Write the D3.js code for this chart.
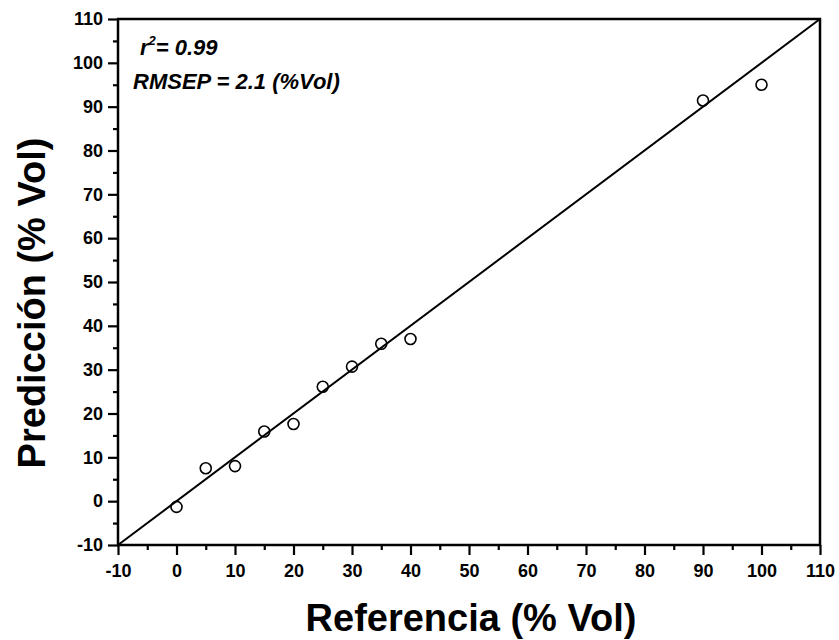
<!DOCTYPE html>
<html>
<head>
<meta charset="utf-8">
<script src="https://cdn.jsdelivr.net/npm/d3@7"></script>
<style>
  html, body { margin: 0; padding: 0; background: #fff; }
  svg { display: block; font-family: "Liberation Sans", Arial, sans-serif; }
</style>
</head>
<body>
<svg id="chart" width="839" height="640"></svg>
<script>
// Reference vs. predicted concentration (% Vol)
const referencia = [0, 5, 10, 15, 20, 25, 30, 35, 40, 90, 100];
const prediccion = [-1.3, 7.5, 8.0, 15.9, 17.6, 26.1, 30.7, 35.9, 37.0, 91.4, 95.0];
const majorTicks = [-10, 0, 10, 20, 30, 40, 50, 60, 70, 80, 90, 100, 110];
const minorTicks = [-5, 5, 15, 25, 35, 45, 55, 65, 75, 85, 95, 105];
const identityLine = [-10, 110];
const statsLines = ["0.99", "2.1"];

const svg = d3.select("#chart");
const plotLeft = 118, plotRight = 820, plotTop = 19, plotBottom = 545;

const x = d3.scaleLinear().domain([-10, 110]).range([plotLeft, plotRight]);
const y = d3.scaleLinear().domain([-10, 110]).range([plotBottom, plotTop]);

// plain hyphen for negative tick values
const tickFmt = d => String(d);

// minor ticks (outward, short)
const xMinor = svg.append("g").attr("transform", `translate(0,${plotBottom})`)
  .call(d3.axisBottom(x).tickValues(minorTicks).tickSize(5).tickFormat(""));
const yMinor = svg.append("g").attr("transform", `translate(${plotLeft},0)`)
  .call(d3.axisLeft(y).tickValues(minorTicks).tickSize(5).tickFormat(""));

// major ticks with labels
const xAxis = svg.append("g").attr("transform", `translate(0,${plotBottom})`)
  .call(d3.axisBottom(x).tickValues(majorTicks).tickSize(10).tickPadding(5).tickFormat(tickFmt));
const yAxis = svg.append("g").attr("transform", `translate(${plotLeft},0)`)
  .call(d3.axisLeft(y).tickValues(majorTicks).tickSize(10).tickPadding(5).tickFormat(tickFmt));

[xMinor, yMinor, xAxis, yAxis].forEach(g => {
  g.select(".domain").remove();
  g.selectAll(".tick line").attr("stroke", "#000").attr("stroke-width", 2.2);
  g.selectAll("text").attr("fill", "#000").attr("font-size", 18).attr("font-weight", "bold")
    .attr("font-family", "'Liberation Sans', Arial, sans-serif");
});
xAxis.selectAll("text").attr("dy", "0.95em");

// frame
svg.append("rect")
  .attr("x", plotLeft).attr("y", plotTop)
  .attr("width", plotRight - plotLeft).attr("height", plotBottom - plotTop)
  .attr("fill", "none").attr("stroke", "#000").attr("stroke-width", 2.5);

// identity line y = x
svg.append("line")
  .attr("x1", x(identityLine[0])).attr("y1", y(identityLine[0]))
  .attr("x2", x(identityLine[1])).attr("y2", y(identityLine[1]))
  .attr("stroke", "#000").attr("stroke-width", 2);

// sample points
svg.append("g").selectAll("circle")
  .data(referencia.map((r, i) => [r, prediccion[i]]))
  .join("circle")
  .attr("cx", d => x(d[0])).attr("cy", d => y(d[1]))
  .attr("r", 5.5)
  .attr("fill", "none").attr("stroke", "#000").attr("stroke-width", 1.6);

// statistics
const stat1 = svg.append("text")
  .attr("x", 140).attr("y", 55)
  .attr("font-size", 22).attr("font-weight", "bold").attr("font-style", "italic");
stat1.append("tspan").text("r");
stat1.append("tspan").attr("font-size", 13).attr("dy", -10).text("2");
stat1.append("tspan").attr("dy", 10).text("= " + statsLines[0]);

svg.append("text")
  .attr("x", 133).attr("y", 89)
  .attr("font-size", 22).attr("font-weight", "bold").attr("font-style", "italic")
  .text("RMSEP = " + statsLines[1] + " (%Vol)");

// axis titles
svg.append("text")
  .attr("x", 471).attr("y", 631)
  .attr("text-anchor", "middle")
  .attr("font-size", 38).attr("font-weight", "bold")
  .text("Referencia (% Vol)");

svg.append("text")
  .attr("transform", "translate(45,303) rotate(-90)")
  .attr("text-anchor", "middle")
  .attr("font-size", 38).attr("font-weight", "bold")
  .text("Predicción (% Vol)");
</script>
</body>
</html>
